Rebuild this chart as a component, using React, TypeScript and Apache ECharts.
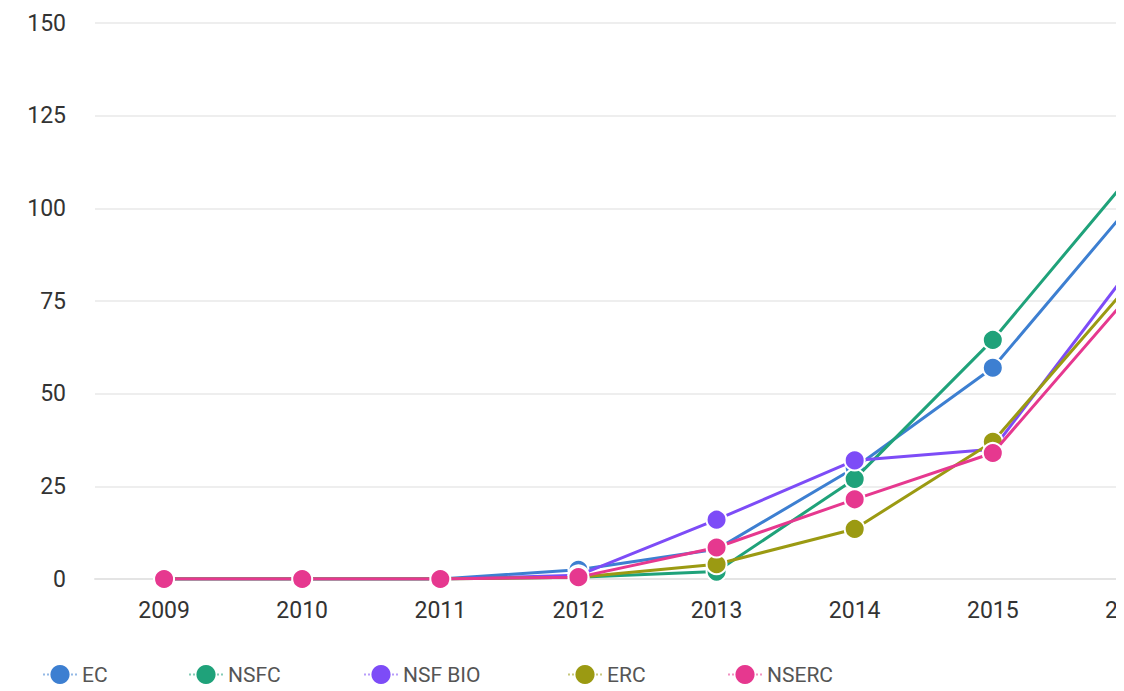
import React, { useEffect, useRef } from "react";
import * as echarts from "echarts";

const years = ["2009", "2010", "2011", "2012", "2013", "2014", "2015", "2016"];
const seriesNames = ["EC", "NSFC", "NSF BIO", "ERC", "NSERC"];
const ecValues = [0, 0, 0, 2.5, 8, 30, 57, 101];
const nsfcValues = [0, 0, 0, 0.5, 2, 27, 64.5, 109];
const nsfBioValues = [0, 0, 0, 1, 16, 32, 35, 84];
const ercValues = [0, 0, 0, 0.5, 4, 13.5, 37, 80];
const nsercValues = [0, 0, 0, 0.5, 8.5, 21.5, 34, 77];
const yTicks = [0, 25, 50, 75, 100, 125, 150];

const colors = ["#3d7fd1", "#1fa27a", "#7d4cf7", "#9b9a12", "#e6388f"];
const legendLefts = [37, 183, 358, 562, 722];

export default function App() {
  const ref = useRef<HTMLDivElement>(null);
  useEffect(() => {
    if (!ref.current) return;
    const chart = echarts.init(ref.current, undefined, { renderer: "svg" });
    const allValues = [ecValues, nsfcValues, nsfBioValues, ercValues, nsercValues];
    const font = "Roboto, 'Noto Sans', sans-serif";
    chart.setOption({
      animation: false,
      backgroundColor: "#ffffff",
      color: colors,
      textStyle: { fontFamily: font },
      grid: { left: 95, right: 10, top: 23, bottom: 112 },
      legend: seriesNames.map((n, i) => ({
        data: [n],
        left: legendLefts[i],
        top: 659,
        itemWidth: 34,
        itemHeight: 24,
        itemGap: 0,
        lineStyle: { width: 2, opacity: 0.55, type: "dotted" },
        itemStyle: { borderWidth: 0 },
        textStyle: { fontSize: 21, color: "#555", fontFamily: font },
      })),
      xAxis: {
        type: "category",
        data: years,
        boundaryGap: true,
        axisLine: { show: true, lineStyle: { color: "#e4e4e4", width: 2 } },
        axisTick: { show: false },
        axisLabel: { fontSize: 23, color: "#333", margin: 20, fontFamily: font },
      },
      yAxis: {
        type: "value",
        min: yTicks[0],
        max: yTicks[yTicks.length - 1],
        interval: 25,
        axisLine: { show: false },
        axisTick: { show: false },
        splitLine: { lineStyle: { color: "#eeeeee", width: 2 } },
        axisLabel: { fontSize: 23, color: "#333", margin: 29, fontFamily: font },
      },
      series: seriesNames.map((n, i) => ({
        name: n,
        type: "line",
        data: allValues[i],
        symbol: "circle",
        symbolSize: 20,
        showSymbol: true,
        lineStyle: { width: 3, color: colors[i] },
        itemStyle: { color: colors[i], borderColor: "#ffffff", borderWidth: 2 },
        z: 2 + i,
      })),
    });
    return () => chart.dispose();
  }, []);
  return (
    <div
      style={{
        position: "fixed",
        left: 0,
        top: 0,
        width: 1116,
        height: 691,
        overflow: "hidden",
        background: "#fff",
      }}
    >
      <div ref={ref} style={{ width: 1210, height: 691 }} />
    </div>
  );
}
